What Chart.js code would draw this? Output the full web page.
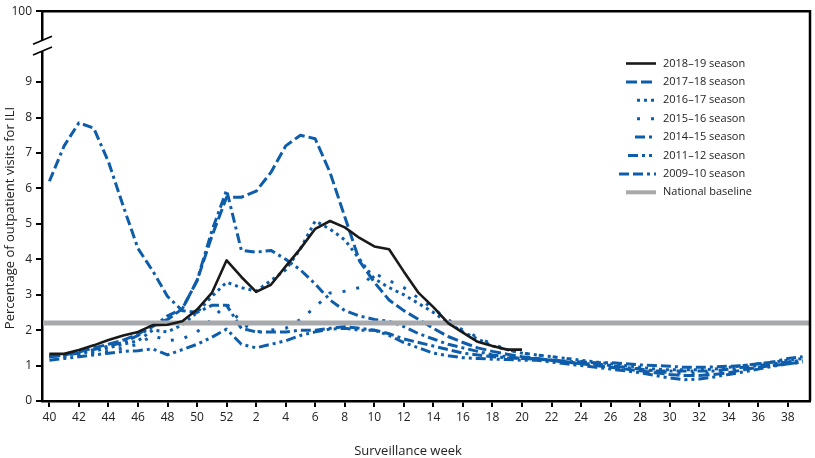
<!DOCTYPE html>
<html lang="en">
<head>
<meta charset="UTF-8">
<title>Outpatient ILI by season</title>
<script src="https://cdn.jsdelivr.net/npm/chart.js"></script>
<style>
    body {
        margin: 0;
        background-color: #ffffff;
    }
    #wrap {
        width: 815px;
        height: 458px;
    }
</style>
</head>
<body>
<div id="wrap"><canvas id="iliChart" width="815" height="458"></canvas></div>
<script>
// surveillance weeks, 40 of one year through 39 of the next
const weeks = [40, 41, 42, 43, 44, 45, 46, 47, 48, 49, 50, 51, 52,
    1, 2, 3, 4, 5, 6, 7, 8, 9, 10, 11, 12, 13, 14, 15, 16, 17, 18, 19, 20,
    21, 22, 23, 24, 25, 26, 27, 28, 29, 30, 31, 32, 33, 34, 35, 36, 37, 38, 39];

const seasonLabels = ['2018\u201319 season', '2017\u201318 season', '2016\u201317 season',
    '2015\u201316 season', '2014\u201315 season', '2011\u201312 season', '2009\u201310 season'];
const baselineLabel = 'National baseline';
const baseline = 2.2;

// % of visits for ILI
const s1819 = [1.33, 1.33, 1.44, 1.57, 1.72, 1.85, 1.95, 2.14, 2.15, 2.25, 2.58, 3.05, 3.97,
    3.5, 3.08, 3.28, 3.8, 4.3, 4.86, 5.08, 4.9, 4.6, 4.36, 4.28, 3.65, 3.05, 2.65, 2.2, 1.93, 1.67, 1.55, 1.45, 1.45];
const s1718 = [1.25, 1.3, 1.38, 1.5, 1.6, 1.72, 1.88, 2.15, 2.3, 2.6, 3.4, 4.65, 5.75,
    5.75, 5.92, 6.45, 7.2, 7.5, 7.4, 6.45, 5.2, 3.95, 3.35, 2.85, 2.55, 2.3, 2.05, 1.82, 1.65, 1.5, 1.4, 1.32, 1.25,
    1.2, 1.15, 1.1, 1.05, 1.0, 0.95, 0.9, 0.85, 0.8, 0.75, 0.72, 0.72, 0.75, 0.8, 0.88, 0.95, 1.0, 1.05, 1.1];
const s1617 = [1.3, 1.3, 1.35, 1.4, 1.5, 1.6, 1.7, 2.0, 1.95, 2.15, 2.5, 2.95, 3.35,
    3.2, 3.1, 3.4, 3.7, 4.3, 5.08, 4.85, 4.55, 4.0, 3.45, 3.2, 3.0, 2.75, 2.5, 2.2, 1.95, 1.75, 1.55, 1.45, 1.35,
    1.3, 1.25, 1.2, 1.15, 1.1, 1.05, 1.0, 0.95, 0.9, 0.88, 0.88, 0.88, 0.9, 0.95, 1.0, 1.05, 1.1, 1.15, 1.2];
const s1516 = [1.25, 1.25, 1.3, 1.35, 1.4, 1.5, 1.6, 1.85, 1.7, 1.75, 1.95, 2.3, 2.75,
    2.2, 1.95, 2.0, 2.05, 2.3, 2.65, 3.05, 3.1, 3.2, 3.6, 3.4, 3.2, 2.9, 2.6, 2.3, 2.0, 1.8, 1.6, 1.45, 1.35,
    1.3, 1.25, 1.2, 1.12, 1.05, 1.0, 0.95, 0.9, 0.85, 0.8, 0.78, 0.78, 0.8, 0.85, 0.9, 0.95, 1.02, 1.1, 1.15];
const s1415 = [1.25, 1.3, 1.35, 1.45, 1.55, 1.65, 1.85, 2.1, 2.4, 2.6, 3.4, 4.8, 5.95,
    4.25, 4.2, 4.25, 4.0, 3.7, 3.3, 2.85, 2.55, 2.4, 2.3, 2.25, 2.1, 1.9, 1.75, 1.6, 1.5, 1.4, 1.3, 1.25, 1.2,
    1.2, 1.15, 1.1, 1.05, 1.05, 1.0, 0.95, 0.9, 0.85, 0.85, 0.85, 0.85, 0.85, 0.9, 0.95, 1.0, 1.05, 1.1, 1.15];
const s1112 = [1.15, 1.2, 1.25, 1.3, 1.35, 1.4, 1.42, 1.47, 1.3, 1.45, 1.6, 1.8, 2.03,
    1.6, 1.5, 1.6, 1.7, 1.85, 1.95, 2.03, 2.05, 2.0, 2.0, 1.85, 1.65, 1.5, 1.35, 1.28, 1.22, 1.2, 1.18, 1.17, 1.15,
    1.15, 1.1, 1.05, 1.0, 0.95, 0.9, 0.85, 0.8, 0.72, 0.65, 0.6, 0.62, 0.68, 0.75, 0.82, 0.9, 0.98, 1.05, 1.1];
const s0910 = [6.2, 7.2, 7.85, 7.7, 6.75, 5.5, 4.3, 3.67, 2.95, 2.55, 2.5, 2.7, 2.7,
    2.05, 1.95, 1.95, 1.95, 2.0, 2.0, 2.05, 2.1, 2.05, 2.0, 1.9, 1.75, 1.65, 1.55, 1.45, 1.35, 1.3, 1.25, 1.22, 1.2,
    1.18, 1.15, 1.12, 1.1, 1.08, 1.08, 1.05, 1.02, 1.0, 0.98, 0.95, 0.95, 0.96, 0.98, 1.0, 1.05, 1.1, 1.2, 1.25];

const blue = '#0e5dab';
const styles = [
    { color: '#1a1a1a', width: 2.6, dash: [], from: 626 },
    { color: blue, width: 3, dash: [11, 4], from: 626 },
    { color: blue, width: 3, dash: [3, 4], from: 637 },
    { color: blue, width: 3, dash: [3, 11], from: 637 },
    { color: blue, width: 3, dash: [10, 4, 3, 4], from: 635 },
    { color: blue, width: 3, dash: [10, 4, 3, 4, 3, 4], from: 628 },
    { color: blue, width: 3, dash: [10, 4, 10, 4, 3, 4], from: 619 }
];
const series = [s1819, s1718, s1617, s1516, s1415, s1112, s0910];

Chart.defaults.font.family = "'Open Sans', sans-serif";
Chart.defaults.font.size = 12;
Chart.defaults.color = '#222';

// gray baseline drawn just under the current season
const baselinePlugin = {
    id: 'baselineLine',
    beforeDatasetDraw(chart, args) {
        if (args.index !== 0) return;
        const ctx = chart.ctx, area = chart.chartArea;
        const y = chart.scales.y.getPixelForValue(baseline);
        ctx.save();
        ctx.strokeStyle = '#a7a9ac';
        ctx.lineWidth = 5;
        ctx.beginPath();
        ctx.moveTo(area.left + 1, y);
        ctx.lineTo(area.right, y);
        ctx.stroke();
        ctx.restore();
    }
};

// frame, axis break, titles, legend
const decorPlugin = {
    id: 'decor',
    afterDraw(chart) {
        const ctx = chart.ctx, area = chart.chartArea;
        const yScale = chart.scales.y;
        ctx.save();

        ctx.strokeStyle = '#000';
        ctx.lineWidth = 2.5;
        ctx.beginPath();
        ctx.moveTo(area.left, area.top);
        ctx.lineTo(area.right, area.top);
        ctx.lineTo(area.right, area.bottom);
        ctx.stroke();

        // axis break
        const yHi = yScale.getPixelForValue(10.18);
        const yLo = yScale.getPixelForValue(9.88);
        const x0 = area.left - 9, x1 = area.left + 10;
        ctx.fillStyle = '#fff';
        ctx.beginPath();
        ctx.moveTo(x0, yHi + 4);
        ctx.lineTo(x1, yHi - 4);
        ctx.lineTo(x1, yLo - 4);
        ctx.lineTo(x0, yLo + 4);
        ctx.closePath();
        ctx.fill();
        ctx.lineWidth = 1.6;
        ctx.beginPath();
        ctx.moveTo(x0, yHi + 4);
        ctx.lineTo(x1, yHi - 4);
        ctx.moveTo(x0, yLo + 4);
        ctx.lineTo(x1, yLo - 4);
        ctx.stroke();

        // axis titles
        ctx.fillStyle = '#222';
        ctx.font = "13px 'Open Sans', sans-serif";
        ctx.textAlign = 'center';
        ctx.textBaseline = 'middle';
        ctx.fillText('Surveillance week', 408, 451);
        ctx.save();
        ctx.translate(10, 218);
        ctx.rotate(-Math.PI / 2);
        ctx.fillText('Percentage of outpatient visits for ILI', 0, 0);
        ctx.restore();

        // legend
        ctx.font = "11px 'Open Sans', sans-serif";
        ctx.textAlign = 'left';
        const rows = seasonLabels.map((label, i) => ({ label, ...styles[i] }));
        rows.push({ label: baselineLabel, color: '#a7a9ac', width: 4, dash: [], from: 626 });
        rows.forEach((r, i) => {
            const y = 63.5 + i * 18.4;
            ctx.strokeStyle = r.color;
            ctx.lineWidth = r.width;
            ctx.setLineDash(r.dash);
            ctx.beginPath();
            ctx.moveTo(r.from, y);
            ctx.lineTo(656, y);
            ctx.stroke();
            ctx.setLineDash([]);
            ctx.fillStyle = '#222';
            ctx.fillText(r.label, 663, y);
        });
        ctx.restore();
    }
};

const datasets = series.map((data, i) => ({
    label: seasonLabels[i],
    data: data,
    borderColor: styles[i].color,
    borderWidth: styles[i].width,
    borderDash: styles[i].dash,
    borderCapStyle: 'butt',
    borderJoinStyle: 'round',
    pointRadius: 0,
    tension: 0,
    fill: false
}));

new Chart(document.getElementById('iliChart'), {
    type: 'line',
    data: { labels: weeks, datasets: datasets },
    options: {
        responsive: false,
        animation: false,
        layout: { padding: { top: 4, right: 5, left: 0, bottom: 0 } },
        plugins: {
            legend: { display: false },
            tooltip: { enabled: false }
        },
        scales: {
            x: {
                offset: true,
                afterFit: s => { s.height = 57; },
                border: { display: true, color: '#000', width: 2.5 },
                grid: {
                    drawOnChartArea: false,
                    offset: false,
                    tickLength: 6,
                    color: c => (c.index % 2 === 0 ? '#000' : 'rgba(0,0,0,0)'),
                    lineWidth: 2
                },
                ticks: {
                    autoSkip: false,
                    maxRotation: 0,
                    padding: 3,
                    color: '#222',
                    callback: (v, i) => (i % 2 === 0 ? String(weeks[i]) : '')
                }
            },
            y: {
                min: 0,
                max: 11,
                afterFit: s => { s.width = 42; },
                afterBuildTicks: s => {
                    s.ticks = [0, 1, 2, 3, 4, 5, 6, 7, 8, 9, 11].map(v => ({ value: v }));
                },
                border: { display: true, color: '#000', width: 2.5 },
                grid: {
                    drawOnChartArea: false,
                    tickLength: 6,
                    color: '#000',
                    lineWidth: 2
                },
                ticks: {
                    padding: 4,
                    color: '#222',
                    callback: v => (v === 11 ? '100' : String(v))
                }
            }
        }
    },
    plugins: [baselinePlugin, decorPlugin]
});
</script>
</body>
</html>
